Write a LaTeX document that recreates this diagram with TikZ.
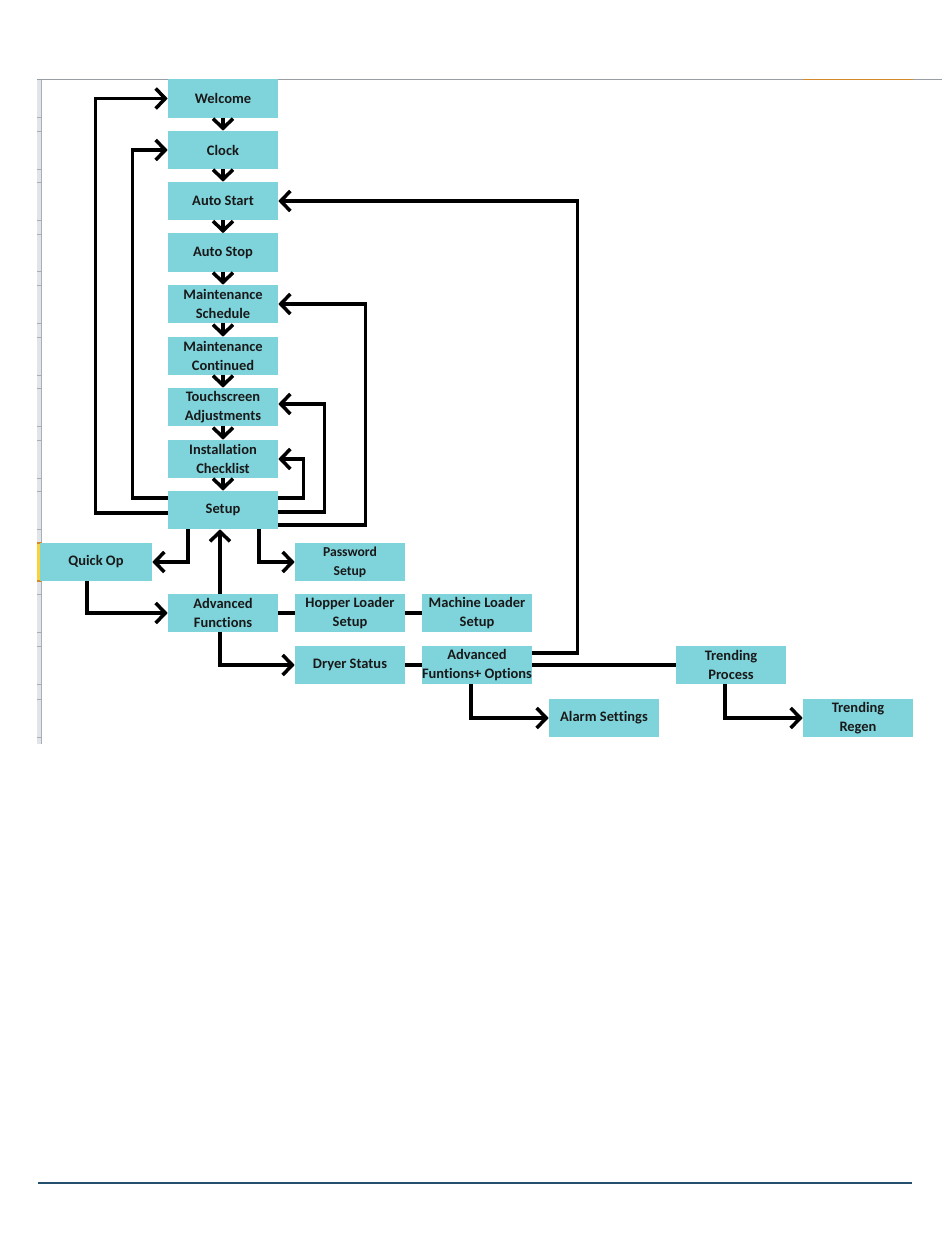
\documentclass[tikz,border=0pt]{standalone}
\usepackage{fontspec}
\setmainfont{Carlito}[Ligatures=NoCommon]
\usetikzlibrary{arrows.meta}

\definecolor{cajacian}{HTML}{7FD4DC}
\definecolor{rejilla}{HTML}{A9AFB6}
\definecolor{franja}{HTML}{E1E5EA}
\definecolor{selamarillo}{HTML}{FCD23A}
\definecolor{selnaranja}{HTML}{D5892A}
\definecolor{pie}{HTML}{24506E}

\tikzset{
  caja/.style={rectangle, fill=cajacian, minimum width=2.75cm, minimum height=0.95cm,
    inner sep=0pt, align=center, text=black!90,
    font=\fontsize{10.3}{13.6}\selectfont\bfseries},
  flecha/.style={line width=2.5pt, -{Straight Barb[length=0.24cm,width=0.5cm]}},
  linea/.style={line width=2.5pt}
}

\begin{document}
\begin{tikzpicture}[x=0.025cm, y=-0.025cm]
\useasboundingbox (0,0) rectangle (950,1241);

    % Hoja de calculo
    \fill[franja] (37,79.5) rectangle (41,744);
    \draw[rejilla, line width=0.6pt] (41,79.5) -- (41,744);
    \foreach \f in {117,131,169,182,220,234,271,285,323,337,375,388,426,440,478,491,529,594,632,646,684,699,737}
        \draw[rejilla, line width=0.6pt] (37,\f) -- (41,\f);
    \fill[selamarillo] (37,543) rectangle (41,581);
    \draw[selnaranja, line width=0.8pt] (37,543) -- (41,543) -- (41,581) -- (37,581);
    \draw[rejilla!90!black, line width=0.7pt] (37,79.5) -- (942,79.5);
    \draw[selnaranja, line width=0.7pt] (803,79.5) -- (913,79.5);
    \draw[pie, line width=1.1pt] (38,1183) -- (912,1183);

    % Columna principal
    \node[caja] (welcome) at (223,98.5) {Welcome};
    \node[caja] (clock) at (223,150) {Clock};
    \node[caja] (autostart) at (223,201) {Auto Start};
    \node[caja] (autostop) at (223,252.5) {Auto Stop};
    \node[caja] (mantsched) at (223,304) {Maintenance\\Schedule};
    \node[caja] (mantcont) at (223,356) {Maintenance\\Continued};
    \node[caja] (touch) at (223,407) {Touchscreen\\Adjustments};
    \node[caja] (install) at (223,459) {Installation\\Checklist};
    \node[caja] (setup) at (223,510) {Setup};

    % Ramas
    \node[caja, minimum width=2.8cm] (quickop) at (96,562) {Quick Op};
    \node[caja, font=\fontsize{9.7}{13.6}\selectfont\bfseries] (password) at (350,562) {Password\\Setup};
    \node[caja] (advfun) at (223,613) {Advanced\\Functions};
    \node[caja] (hopper) at (350,613) {Hopper Loader\\Setup};
    \node[caja] (machine) at (477,613) {Machine Loader\\Setup};
    \node[caja] (dryer) at (350,665) {Dryer Status};
    \node[caja] (advopt) at (477,665) {Advanced\\Funtions+ Options};
    \node[caja] (trendproc) at (731,665) {Trending\\Process};
    \node[caja] (alarm) at (604,718) {Alarm Settings};
    \node[caja] (trendregen) at (858,718) {Trending\\Regen};

    % Flechas hacia abajo
    \foreach \a/\b in {welcome/clock, clock/autostart, autostart/autostop, autostop/mantsched,
        mantsched/mantcont, mantcont/touch, touch/install, install/setup}
        \draw[flecha] (\a) -- (\b);

    % Retornos desde Setup
    \draw[flecha] ([yshift=-0.075cm]setup.west) -- ++(-72,0) |- (welcome.west);
    \draw[flecha] ([yshift=0.3cm]setup.west) -- ++(-35,0) |- (clock.west);
    \draw[flecha] ([yshift=0.3cm]setup.east) -- ++(25,0) |- (install.east);
    \draw[flecha] ([yshift=-0.05cm]setup.east) -- ++(46,0) |- ([yshift=0.075cm]touch.east);
    \draw[flecha] ([yshift=-0.375cm]setup.east) -- ++(87,0) |- (mantsched.east);

    % Salidas de Setup
    \draw[flecha] ([xshift=-0.875cm]setup.south) |- (quickop.east);
    \draw[flecha] ([xshift=0.9cm]setup.south) |- (password.west);
    \draw[flecha] ([xshift=-0.075cm]advfun.north) -- ([xshift=-0.075cm]setup.south);
    \draw[flecha] ([xshift=-0.225cm]quickop.south) |- (advfun.west);

    % Funciones avanzadas
    \draw[linea] (advfun.east) -- (hopper.west);
    \draw[linea] (hopper.east) -- (machine.west);
    \draw[flecha] ([xshift=-0.075cm]advfun.south) |- (dryer.west);
    \draw[linea] (dryer.east) -- (advopt.west);
    \draw[flecha] ([yshift=0.3cm]advopt.east) -- ++(45,0) |- (autostart.east);
    \draw[linea] (advopt.east) -- (trendproc.west);
    \draw[flecha] ([xshift=-0.15cm]advopt.south) |- (alarm.west);
    \draw[flecha] ([xshift=-0.15cm]trendproc.south) |- (trendregen.west);

\end{tikzpicture}
\end{document}
